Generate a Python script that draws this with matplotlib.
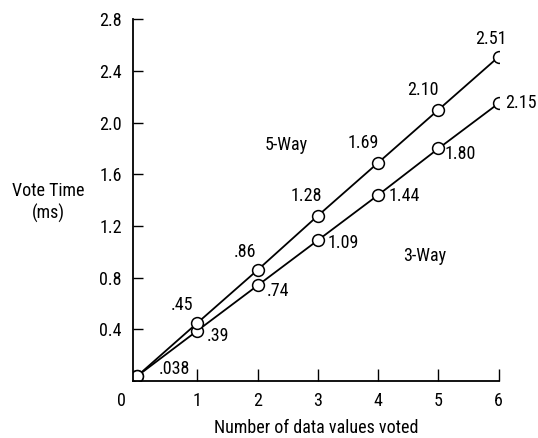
import matplotlib
matplotlib.use("Agg")
import matplotlib.pyplot as plt

plt.rcParams['font.family'] = ['Roboto Condensed', 'DejaVu Sans']

# data
n_values = [0, 1, 2, 3, 4, 5, 6]
five_way = [0.038, 0.45, 0.86, 1.28, 1.69, 2.10, 2.51]
three_way = [0.038, 0.39, 0.74, 1.09, 1.44, 1.80, 2.15]
five_labels = [".038", ".45", ".86", "1.28", "1.69", "2.10", "2.51"]
three_labels = [None, ".39", ".74", "1.09", "1.44", "1.80", "2.15"]
y_ticks = [0.4, 0.8, 1.2, 1.6, 2.0, 2.4, 2.8]
x_ticks = [1, 2, 3, 4, 5, 6]

fs = 13
fig = plt.figure(figsize=(5.38, 4.38), dpi=100)
ax = fig.add_axes([0.247, 0.130, 0.680, 0.826])

mk = dict(marker='o', ms=8.5, mfc='white', mec='black', mew=1.1, color='black', lw=1.3)
ax.plot(n_values, three_way, **mk)
ax.plot(n_values, five_way, **mk)

# value labels (offsets in points)
off5 = [(27, 5), (-11, 13), (-9, 13), (-8, 14), (-11, 14), (-11, 14), (-6, 13)]
off3 = [None, (15, -4), (15, -4), (18, -2), (19, -1), (16, -4), (16, 0)]
for x, y, s, o in zip(n_values, five_way, five_labels, off5):
    ax.annotate(s, (x, y), xytext=o, textcoords='offset points',
                ha='center', va='center', fontsize=fs)
for x, y, s, o in zip(n_values, three_way, three_labels, off3):
    if s is None:
        continue
    ax.annotate(s, (x, y), xytext=o, textcoords='offset points',
                ha='center', va='center', fontsize=fs)

ax.text(2.47, 1.83, "5-Way", ha='center', va='center', fontsize=fs)
ax.text(4.77, 0.97, "3-Way", ha='center', va='center', fontsize=fs)

ax.set_xlim(-0.07, 6)
ax.set_ylim(0, 2.8)
ax.set_xticks(x_ticks)
ax.set_yticks(y_ticks)
ax.set_yticklabels([f"{v:.1f}" for v in y_ticks])
ax.tick_params(axis='x', direction='in', length=8.5, width=1, pad=8, labelsize=fs)
ax.tick_params(axis='y', direction='in', length=7, width=1, pad=8, labelsize=fs)
ax.annotate("0", (0, 0), xytext=(-11, -14), textcoords='offset points',
            ha='center', va='center', fontsize=fs)

for side in ['top', 'right']:
    ax.spines[side].set_visible(False)
for side in ['left', 'bottom']:
    ax.spines[side].set_linewidth(1.3)

ax.set_xlabel("Number of data values voted", fontsize=fs, labelpad=6)
ax.text(-0.232, 0.494, "Vote Time\n(ms)", transform=ax.transAxes,
        ha='center', va='center', fontsize=fs, linespacing=1.3)

fig.savefig("out.png", dpi=100)
